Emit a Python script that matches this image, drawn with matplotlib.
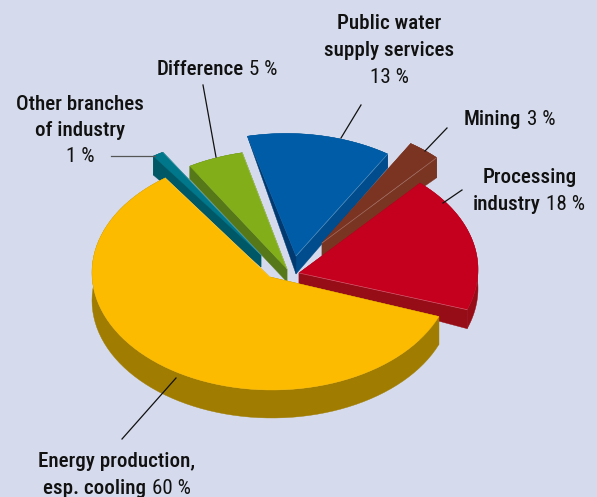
import numpy as np
import matplotlib
matplotlib.use("Agg")
import matplotlib.pyplot as plt

# data, counter-clockwise from the start angle
categories = ["Processing industry", "Mining", "Public water supply services",
              "Difference", "Other branches of industry", "Energy production, esp. cooling"]
values = [18, 3, 13, 5, 1, 60]

BG = "#D5DBEC"
FONT = ["Roboto Condensed", "Roboto", "DejaVu Sans"]
START_ANGLE = -20.0
RX, RY, OFF = 180.0, 117.5, 5.5

top_colors = ["#C4001E", "#7B3322", "#005CA6", "#82AE1A", "#00778A", "#FDBB00"]
wall_colors = ["#960D18", "#7A3422", "#004C8C", "#567818", "#005765", "#A07C00"]
end_colors = ["#960D18", "#7A3422", "#003A70", "#567818", "#005765", "#A07C00"]
# disc centre, apex, depth at apex / rim start / rim end, perspective nudge of the two rim angles
centers = [(298, 275), (309, 246), (286, 256.5), (281, 273), (254, 259), (272, 278)]
apexes = [(299, 273), (322, 243), (296, 256), (287, 269), (261, 255), (270, 277)]
depths = [(11, 19, 19), (15, 20, 20), (18, 14, 0), (13, 13, 13), (12, 19, 19), (28, 28, 28)]
nudges = [(0, 2.5), (0, 0), (0, 0), (0, 0), (0, 0), (2.4, -2)]
draw_order = [3, 4, 2, 1, 0, 5]

fig = plt.figure(figsize=(5.97, 4.97), dpi=100, facecolor=BG)
ax = fig.add_axes([0, 0, 1, 1])
ax.set_xlim(0, 597)
ax.set_ylim(497, 0)
ax.axis("off")

edges = START_ANGLE + 3.6 * np.concatenate([[0], np.cumsum(values)])


def draw_wedge(i):
    a0 = np.radians(edges[i] + nudges[i][0])
    a1 = np.radians(edges[i + 1] + nudges[i][1])
    th = np.linspace(a0, a1, 80)
    cx, cy = centers[i]
    ax_, ay_ = apexes[i]
    rim_x = cx + RX * np.cos(th)
    rim_y = cy - (OFF + RY * np.sin(th))
    d_apex, d0, d1 = depths[i]
    d = np.linspace(d0, d1, th.size)
    # outer wall
    ax.fill(np.r_[rim_x, rim_x[::-1]], np.r_[rim_y, (rim_y + d)[::-1]],
            color=wall_colors[i], lw=0.3)
    # radial faces
    ax.fill([ax_, rim_x[0], rim_x[0], ax_], [ay_, rim_y[0], rim_y[0] + d0, ay_ + d_apex],
            color=wall_colors[i], lw=0.3)
    ax.fill([ax_, rim_x[-1], rim_x[-1], ax_], [ay_, rim_y[-1], rim_y[-1] + d1, ay_ + d_apex],
            color=end_colors[i], lw=0.3)
    # top face
    ax.fill(np.r_[ax_, rim_x], np.r_[ay_, rim_y], color=top_colors[i], lw=0.3)
    # light highlight along the front edge
    ax.plot([ax_, rim_x[0]], [ay_, rim_y[0]], color="white", lw=0.5, alpha=0.3)


for i in draw_order:
    draw_wedge(i)

# leader lines
leaders = [((111, 156), (155, 156), "#555555"), ((203, 85), (216, 157), "#111111"),
           ((361, 105), (341, 138), "#111111"), ((447, 128), (425, 151), "#111111"),
           ((462, 190), (443, 203), "#111111"), ((122, 439), (176, 378), "#111111")]
for p, q, c in leaders:
    ax.plot([p[0], q[0]], [p[1], q[1]], color=c, lw=0.9)

FS = 15.1
renderer = fig.canvas.get_renderer()


def line(xc, y, bold="", regular=""):
    """One centred line: bold words followed by a regular-weight number."""
    parts = []
    if bold:
        parts.append(ax.text(0, y, bold, fontsize=FS, family=FONT, weight="medium",
                             color="#111111", ha="left", va="center"))
    if regular:
        parts.append(ax.text(0, y, regular, fontsize=FS, family=FONT, weight="normal",
                             color="#111111", ha="left", va="center"))
    gap = 6 if len(parts) == 2 else 0
    widths = [t.get_window_extent(renderer).width for t in parts]
    x = xc - (sum(widths) + gap) / 2
    for t, w in zip(parts, widths):
        t.set_x(x)
        x += w + gap


line(80, 105, "Other branches")
line(80, 130, "of industry")
line(80, 157, "", "1 %")
line(217, 69.5, "Difference", "5 %")
line(389, 23.5, "Public water")
line(389, 50.5, "supply services")
line(389, 77.5, "", "13 %")
line(510, 119.5, "Mining", "3 %")
line(530, 177.5, "Processing")
line(529, 204.5, "industry", "18 %")
line(117, 461.5, "Energy production,")
line(117, 488, "esp. cooling", "60 %")

fig.savefig("out.png", dpi=100, facecolor=BG)
